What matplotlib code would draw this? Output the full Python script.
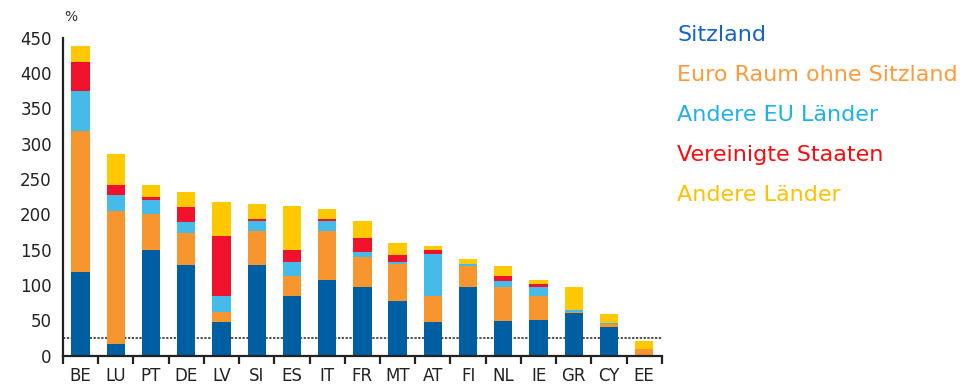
import numpy as np
import matplotlib as mpl
mpl.use('Agg')
import matplotlib.pyplot as plt

countries = ['BE', 'LU', 'PT', 'DE', 'LV', 'SI', 'ES', 'IT', 'FR', 'MT', 'AT',
             'FI', 'NL', 'IE', 'GR', 'CY', 'EE']

# cumulative tops, converted to segment heights below
top_sitz = [119, 17, 150, 129, 48, 129, 85, 107, 98, 78, 48, 98, 49, 51, 61, 41, 0]
top_euro = [318, 205, 200, 174, 62, 177, 113, 177, 140, 130, 84, 127, 98, 85, 62, 45, 9]
top_eu = [375, 228, 221, 189, 84, 191, 133, 190, 147, 133, 144, 130, 106, 98, 65, 47, 9]
top_us = [416, 242, 225, 211, 169, 193, 150, 194, 166, 142, 149, 130, 113, 101, 65, 47, 9]
top_other = [438, 286, 242, 231, 217, 215, 212, 208, 191, 159, 156, 137, 127, 107, 97, 59, 21]

series_names = ['Sitzland', 'Euro Raum ohne Sitzland', 'Andere EU Länder',
                'Vereinigte Staaten', 'Andere Länder']
bar_colors = ['#005ea2', '#f7962f', '#45bbea', '#f0112d', '#ffc800']
text_colors = ['#1565c8', '#ff9a3c', '#1eb1ee', '#ff0a0a', '#ffc000']
threshold = 25

tops = np.array([top_sitz, top_euro, top_eu, top_us, top_other], dtype=float)
bottoms = np.vstack([np.zeros(len(countries)), tops[:-1]])
heights = tops - bottoms

fig = plt.figure(figsize=(9.69, 3.88), dpi=100)
ax = fig.add_axes([0.065, 0.083, 0.618, 0.82])

x = np.arange(len(countries))
for i in range(len(series_names)):
    ax.bar(x, heights[i], bottom=bottoms[i], width=0.52, color=bar_colors[i],
           linewidth=0)

ax.axhline(threshold, color='#222222', linestyle=(0, (1.5, 1)), linewidth=1.1, zorder=0)

ax.set_xlim(-0.5, len(countries) - 0.5)
ax.set_ylim(0, 450)
ax.set_yticks(range(0, 451, 50))
ax.tick_params(axis='y', length=0, labelsize=12, pad=8, labelcolor='#222222')

ax.set_xticks(x)
ax.set_xticklabels(countries)
ax.set_xticks(np.arange(-0.5, len(countries)), minor=True)
ax.tick_params(axis='x', which='major', length=0, labelsize=12, pad=8, labelcolor='#222222')
ax.tick_params(axis='x', which='minor', length=6, width=1.6, color='#222222')

for s in ['top', 'right']:
    ax.spines[s].set_visible(False)
for s in ['left', 'bottom']:
    ax.spines[s].set_linewidth(1.6)
    ax.spines[s].set_color('#222222')

fig.text(0.066, 0.955, '%', fontsize=10, color='#333333', ha='left', va='center')

for i, name in enumerate(series_names):
    fig.text(0.699, 0.91 - i * 0.103, name, fontsize=16, color=text_colors[i],
             ha='left', va='center')

plt.savefig('out.png', dpi=100)
